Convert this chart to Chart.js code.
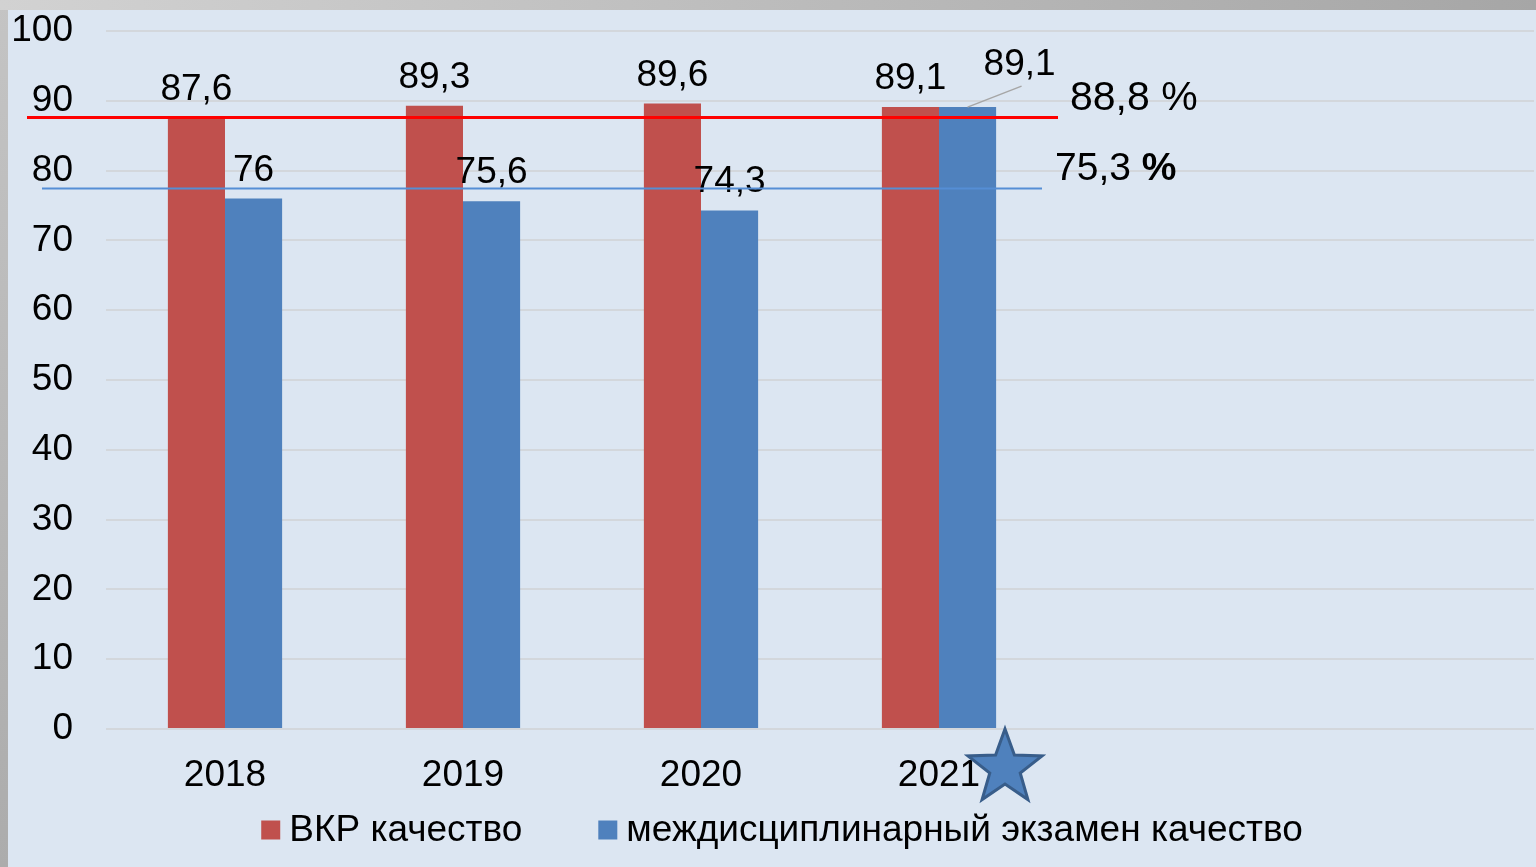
<!DOCTYPE html>
<html lang="ru">
<head>
<meta charset="utf-8">
<title>ВКР и междисциплинарный экзамен</title>
<script src="https://cdn.jsdelivr.net/npm/chart.js@4/dist/chart.umd.min.js"></script>
<style>
  html, body {
    margin: 0;
    padding: 0;
  }
  body {
    width: 1536px;
    height: 867px;
    overflow: hidden;
    position: relative;
    background: linear-gradient(to bottom, #c4c4c4, #acacac);
  }
  #topBand {
    position: absolute;
    left: 0;
    top: 0;
    width: 1536px;
    height: 10px;
    background: linear-gradient(to right, #d2d2d2, #a6a6a6);
  }
  #panel {
    position: absolute;
    left: 8px;
    top: 10px;
    width: 1528px;
    height: 857px;
    background: #dce6f2;
  }
</style>
</head>
<body>
<div id="topBand"></div>
<div id="panel"><canvas id="qualityChart"></canvas></div>

<script>
"use strict";

const YEARS = ["2018", "2019", "2020", "2021", "", ""];
const VKR_QUALITY = [87.6, 89.3, 89.6, 89.1, null, null];
const EXAM_QUALITY = [76, 75.6, 74.3, 89.1, null, null];

const Y_MIN = 0;
const Y_MAX = 100;
const Y_STEP = 10;

// average lines as drawn on the slide, with their captions
const AVG_LINE_VALUES = [87.7, 77.5];
const AVG_LINE_TEXT = ["88,8 ", "75,3 "];

const RED = "#c0504d";
const BLUE = "#4f81bd";
const FONT = "'Liberation Sans', Arial, sans-serif";
const FONT_SIZE = 37;

function formatValue(v) {
  return String(v).replace(".", ",");
}

const valueLabels = {
  id: "valueLabels",
  afterDatasetsDraw(chart) {
    const ctx = chart.ctx;
    ctx.save();
    ctx.font = `${FONT_SIZE}px ${FONT}`;
    ctx.fillStyle = "#000";
    ctx.textAlign = "center";
    ctx.textBaseline = "alphabetic";

    chart.data.datasets.forEach((ds, di) => {
      const meta = chart.getDatasetMeta(di);
      meta.data.forEach((bar, i) => {
        const v = ds.data[i];
        if (v == null) return;
        let x = bar.x;
        let y = bar.y - 18;
        // last blue label is pushed aside with a leader line
        if (di === 1 && i === 3) {
          ctx.save();
          ctx.strokeStyle = "#a6a6a6";
          ctx.lineWidth = 1.5;
          ctx.beginPath();
          ctx.moveTo(bar.x, bar.y);
          ctx.lineTo(bar.x + 54, bar.y - 21);
          ctx.stroke();
          ctx.restore();
          x = bar.x + 52;
          y = bar.y - 32;
        }
        ctx.fillText(formatValue(v), x, y);
      });
    });
    ctx.restore();
  }
};

const averageLines = {
  id: "averageLines",
  afterDatasetsDraw(chart) {
    const ctx = chart.ctx;
    const xs = chart.scales.x;
    const ys = chart.scales.y;
    const area = chart.chartArea;
    const half = (xs.getPixelForValue(1) - xs.getPixelForValue(0)) / 2;
    const groupEnd = xs.getPixelForValue(3) + half;

    const styles = [
      { color: "#ff0000", width: 3, startOff: 79, endOff: 0, textGap: 12, size: 41, boldPct: false },
      { color: "#558ed5", width: 2, startOff: 64, endOff: -16, textGap: 13, size: 39, boldPct: true }
    ];

    ctx.save();
    AVG_LINE_VALUES.forEach((val, i) => {
      const s = styles[i];
      const y = Math.round(ys.getPixelForValue(val)) + 0.5;
      const x1 = area.left - s.startOff;
      const x2 = groupEnd + s.endOff;
      ctx.strokeStyle = s.color;
      ctx.lineWidth = s.width;
      ctx.beginPath();
      ctx.moveTo(x1, y);
      ctx.lineTo(x2, y);
      ctx.stroke();

      ctx.fillStyle = "#000";
      ctx.textAlign = "left";
      ctx.textBaseline = "middle";
      ctx.font = `${s.size}px ${FONT}`;
      const tx = x2 + s.textGap;
      const ty = y - 19;
      ctx.fillText(AVG_LINE_TEXT[i], tx, ty);
      const w = ctx.measureText(AVG_LINE_TEXT[i]).width;
      ctx.font = `${s.boldPct ? "bold " : ""}${s.size}px ${FONT}`;
      ctx.fillText("%", tx + w, ty);
    });
    ctx.restore();
  }
};

// legend drawn by hand: the slide has wide gaps between items
const bottomLegend = {
  id: "bottomLegend",
  afterDraw(chart) {
    const ctx = chart.ctx;
    const box = 19;
    const textGap = 9;
    const itemGap = 76;
    ctx.save();
    ctx.font = `${FONT_SIZE}px ${FONT}`;
    const items = chart.data.datasets.map(ds => ({
      text: ds.label,
      color: ds.backgroundColor,
      w: ctx.measureText(ds.label).width
    }));
    const total = items.reduce((s, it) => s + box + textGap + it.w, 0) + itemGap * (items.length - 1);
    let x = (chart.width - total) / 2 + 10;
    const cy = chart.height - 37;
    ctx.textAlign = "left";
    ctx.textBaseline = "middle";
    items.forEach(it => {
      ctx.fillStyle = it.color;
      ctx.fillRect(x, cy - box / 2, box, box);
      ctx.fillStyle = "#000";
      ctx.fillText(it.text, x + box + textGap, cy + 1);
      x += box + textGap + it.w + itemGap;
    });
    ctx.restore();
  }
};

const starMark = {
  id: "starMark",
  afterDraw(chart) {
    const ctx = chart.ctx;
    const cx = chart.scales.x.getPixelForValue(3) + 66;
    const cy = chart.chartArea.bottom + 39;
    const outer = 39;
    const inner = 16;
    ctx.save();
    ctx.beginPath();
    for (let k = 0; k < 10; k++) {
      const r = k % 2 === 0 ? outer : inner;
      const a = -Math.PI / 2 + k * Math.PI / 5;
      const px = cx + r * Math.cos(a);
      const py = cy + r * Math.sin(a);
      if (k === 0) ctx.moveTo(px, py);
      else ctx.lineTo(px, py);
    }
    ctx.closePath();
    ctx.fillStyle = BLUE;
    ctx.fill();
    ctx.strokeStyle = "#385d8a";
    ctx.lineWidth = 3;
    ctx.stroke();
    ctx.restore();
  }
};

const ctx = document.getElementById("qualityChart").getContext("2d");

new Chart(ctx, {
  type: "bar",
  data: {
    labels: YEARS,
    datasets: [
      {
        label: "ВКР качество",
        data: VKR_QUALITY,
        backgroundColor: RED,
        borderWidth: 0
      },
      {
        label: "междисциплинарный экзамен качество",
        data: EXAM_QUALITY,
        backgroundColor: BLUE,
        borderWidth: 0
      }
    ]
  },
  options: {
    responsive: true,
    maintainAspectRatio: false,
    animation: false,
    categoryPercentage: 0.48,
    barPercentage: 1.0,
    layout: {
      padding: { top: 0, right: 2, bottom: 67, left: 0 }
    },
    plugins: {
      legend: { display: false },
      tooltip: { enabled: false }
    },
    scales: {
      x: {
        grid: { display: false, drawTicks: false },
        border: { display: false },
        ticks: {
          color: "#000",
          padding: 25,
          maxRotation: 0,
          font: { family: FONT, size: FONT_SIZE }
        },
        afterFit: scale => {
          scale.height = 71;
        }
      },
      y: {
        min: Y_MIN,
        max: Y_MAX,
        grid: {
          color: "#d3d7dc",
          lineWidth: 2,
          drawTicks: false
        },
        border: { display: false },
        ticks: {
          stepSize: Y_STEP,
          color: "#000",
          padding: 33,
          font: { family: FONT, size: FONT_SIZE }
        },
        afterFit: scale => {
          scale.width = 98;
          scale.paddingTop = 21;
          scale.paddingBottom = 0;
        }
      }
    }
  },
  plugins: [valueLabels, averageLines, bottomLegend, starMark]
});
</script>
</body>
</html>
